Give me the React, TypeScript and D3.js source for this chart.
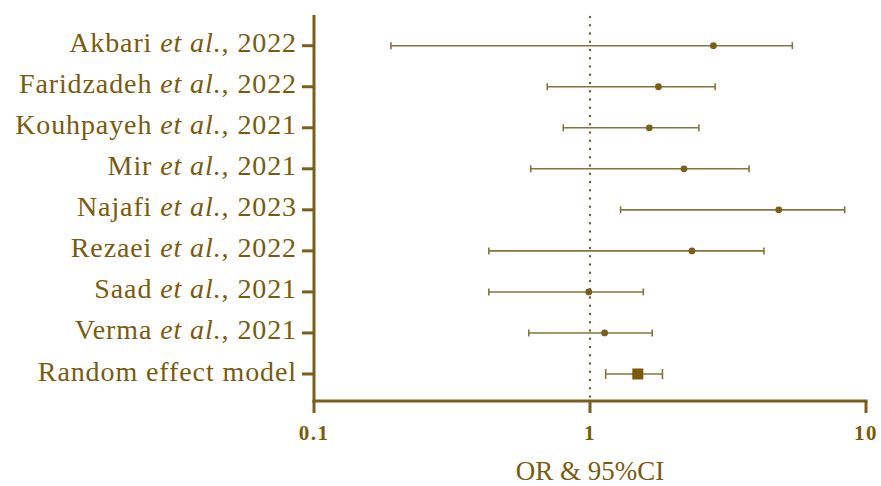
import React from "react";
import * as d3 from "d3";

const authors = ["Akbari", "Faridzadeh", "Kouhpayeh", "Mir", "Najafi", "Rezaei", "Saad", "Verma"];
const years = ["2022", "2022", "2021", "2021", "2023", "2022", "2021", "2021"];
const orValues = [2.8, 1.77, 1.64, 2.19, 4.83, 2.34, 0.99, 1.13];
const lowerCI = [0.19, 0.70, 0.80, 0.61, 1.29, 0.43, 0.43, 0.60];
const upperCI = [5.41, 2.84, 2.48, 3.77, 8.37, 4.27, 1.56, 1.68];
const pooledLabel = "Random effect model";
const pooled = { or: 1.49, lo: 1.14, hi: 1.83 };
const xTicks = [0.1, 1, 10];
const xTickLabels = ["0.1", "1", "10"];
const xTitle = "OR & 95%CI";

const W = 881, H = 486;
const TEXT = "#7a5b0e";
const AXIS = "#7a5f1c";
const LINE = "#84743d";
const DOT = "#7a5f1a";
const FONT = "'Liberation Serif', serif";
const labelStyle = { fontFamily: FONT, fontSize: 28, letterSpacing: 0.9 };

export default function App() {
  const rows = [...authors.map((a, i) => a + i), "pooled"];
  const x = d3.scaleLog().domain([0.1, 10]).range([314, 866]);
  const y = d3.scalePoint<string>().domain(rows).range([45.7, 374]);
  const axisTop = 15, axisBottom = 401, axisLeft = 314, axisRight = 866;

  return (
    <svg width={W} height={H} style={{ position: "absolute", left: 0, top: 0, background: "#fff" }}>
      {/* dotted reference line */}
      <line x1={x(1)} x2={x(1)} y1={axisTop + 2} y2={axisBottom} stroke="#6b5e3c" strokeWidth={2.4}
        strokeDasharray="0 8.25" strokeLinecap="round" />
      {/* study rows */}
      {authors.map((a, i) => {
        const yy = y(a + i)!;
        return (
          <g key={i}>
            <line x1={x(lowerCI[i])} x2={x(upperCI[i])} y1={yy} y2={yy} stroke={LINE} strokeWidth={1.6} />
            <line x1={x(lowerCI[i])} x2={x(lowerCI[i])} y1={yy - 3.5} y2={yy + 3.5} stroke={LINE} strokeWidth={1.6} />
            <line x1={x(upperCI[i])} x2={x(upperCI[i])} y1={yy - 3.5} y2={yy + 3.5} stroke={LINE} strokeWidth={1.6} />
            <circle cx={x(orValues[i])} cy={yy} r={3.4} fill={DOT} />
            <text x={297} y={yy + 6.5} textAnchor="end" fill={TEXT} style={labelStyle}>
              {a + " "}<tspan fontStyle="italic">et al.</tspan>{", " + years[i]}
            </text>
            <line x1={axisLeft - 12} x2={axisLeft} y1={yy} y2={yy} stroke={AXIS} strokeWidth={3} />
          </g>
        );
      })}
      {/* pooled */}
      {(() => {
        const yy = y("pooled")!;
        return (
          <g>
            <line x1={x(pooled.lo)} x2={x(pooled.hi)} y1={yy} y2={yy} stroke={LINE} strokeWidth={1.6} />
            <line x1={x(pooled.lo)} x2={x(pooled.lo)} y1={yy - 5} y2={yy + 5} stroke={LINE} strokeWidth={1.6} />
            <line x1={x(pooled.hi)} x2={x(pooled.hi)} y1={yy - 5} y2={yy + 5} stroke={LINE} strokeWidth={1.6} />
            <rect x={x(pooled.or) - 5.5} y={yy - 5.5} width={11} height={11} fill="#7a5a08" />
            <text x={297} y={yy + 6.5} textAnchor="end" fill={TEXT} style={labelStyle}>{pooledLabel}</text>
            <line x1={axisLeft - 12} x2={axisLeft} y1={yy} y2={yy} stroke={AXIS} strokeWidth={3} />
          </g>
        );
      })()}
      {/* axes */}
      <line x1={axisLeft} x2={axisLeft} y1={axisTop} y2={axisBottom + 1.5} stroke={AXIS} strokeWidth={3} />
      <line x1={axisLeft - 1.5} x2={axisRight + 1.5} y1={axisBottom} y2={axisBottom} stroke={AXIS} strokeWidth={3} />
      {xTicks.map((t, i) => (
        <g key={t}>
          <line x1={x(t)} x2={x(t)} y1={axisBottom} y2={axisBottom + 12} stroke={AXIS} strokeWidth={3} />
          <text x={x(t)} y={440} textAnchor="middle" fill={TEXT}
            style={{ fontFamily: FONT, fontSize: 21, fontWeight: "bold", letterSpacing: 1.5 }}>{xTickLabels[i]}</text>
        </g>
      ))}
      <text x={x(1)} y={480} textAnchor="middle" fill={TEXT}
        style={{ fontFamily: FONT, fontSize: 27 }}>{xTitle}</text>
    </svg>
  );
}
